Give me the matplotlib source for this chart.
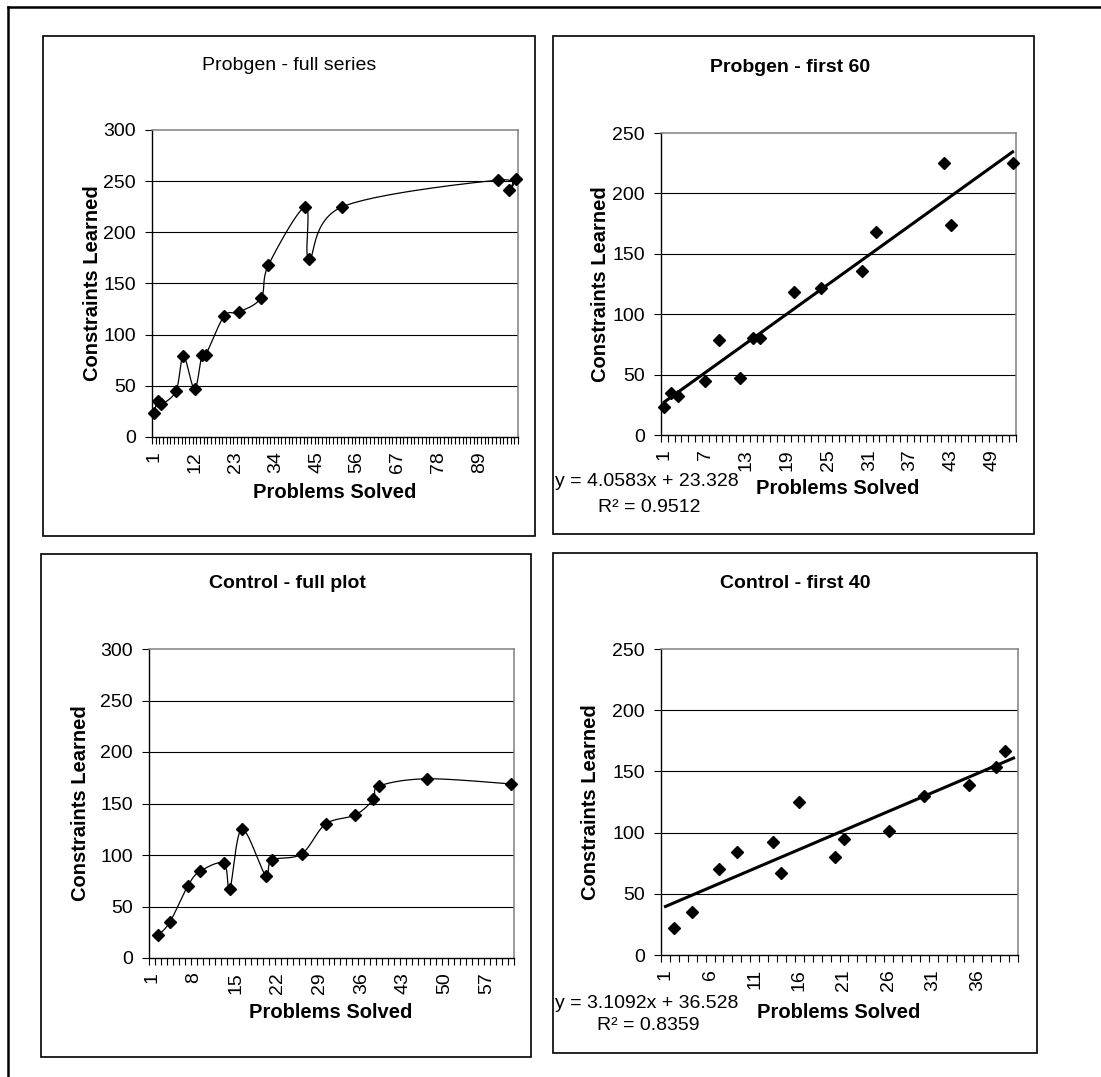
import matplotlib
matplotlib.use("Agg")
import matplotlib.pyplot as plt
import numpy as np
from matplotlib.patches import Rectangle
from matplotlib.lines import Line2D

plt.rcParams['font.family'] = ['Liberation Sans', 'DejaVu Sans']

W, H = 1101, 1077

# Probgen run: problem index -> constraints learned
probgen_x = [1, 2, 3, 7, 9, 12, 14, 15, 20, 24, 30, 32, 42, 43, 52, 94, 97, 99]
probgen_y = [23, 35, 32, 45, 79, 47, 80, 80, 118, 122, 136, 168, 225, 174, 225, 251, 241, 252]
probgen_full_n = 99
probgen_first_n = 52
probgen_fit = (4.0583, 23.328, 0.9512)

# Control run
control_x = [2, 4, 7, 9, 13, 14, 16, 20, 21, 26, 30, 35, 38, 39, 47, 61]
control_y = [22, 35, 70, 84, 92, 67, 125, 80, 95, 101, 130, 139, 154, 167, 174, 169]
control_full_n = 61
control_first_n = 40
control_fit = (3.1092, 36.528, 0.8359)

FS = 14


def smooth(xs, ys, steps=30):
    # catmull-rom style bezier, like excel's "smoothed line"
    x = np.asarray(xs, float)
    y = np.asarray(ys, float)
    px = np.concatenate([[x[0]], x, [x[-1]]])
    py = np.concatenate([[y[0]], y, [y[-1]]])
    t = np.linspace(0, 1, steps)
    ox, oy = [], []
    for i in range(1, len(px) - 2):
        x0, x1, x2, x3 = px[i-1:i+3]
        y0, y1, y2, y3 = py[i-1:i+3]
        cx1, cy1 = x1 + (x2 - x0) / 6, y1 + (y2 - y0) / 6
        cx2, cy2 = x2 - (x3 - x1) / 6, y2 - (y3 - y1) / 6
        a, b, c, d = (1-t)**3, 3*(1-t)**2*t, 3*(1-t)*t**2, t**3
        ox.extend(a*x1 + b*cx1 + c*cx2 + d*x2)
        oy.extend(a*y1 + b*cy1 + c*cy2 + d*y2)
    return ox, oy


def fx(x):
    return x / W


def fy(y):
    return 1 - y / H


def frame(l, t, r, b):
    fig.add_artist(Rectangle((fx(l), fy(b)), (r - l) / W, (b - t) / H,
                             transform=fig.transFigure, fill=False,
                             ec='black', lw=1.2))


def make_axes(box, n, ymax, step):
    l, t, r, b = box
    ax = fig.add_axes([fx(l), fy(b), (r - l) / W, (b - t) / H])
    ax.set_xlim(0.5, n + 0.5)
    ax.set_ylim(0, ymax)
    ax.set_yticks(np.arange(0, ymax + 1, 50))
    ax.set_xticks(np.arange(1, n + 1, step))
    ax.set_xticks(np.arange(0.5, n + 1, 1), minor=True)
    ax.tick_params(axis='x', which='major', length=0, pad=10,
                   labelrotation=90, labelsize=FS)
    ax.tick_params(axis='x', which='minor', length=5, width=0.8)
    ax.tick_params(axis='y', length=5, width=0.8, pad=6.5, labelsize=FS)
    for v in range(50, ymax, 50):
        ax.axhline(v, color='black', lw=0.8, zorder=1)
    for s in ['top', 'right']:
        ax.spines[s].set_color('#808080')
        ax.spines[s].set_linewidth(1.1)
    for s in ['left', 'bottom']:
        ax.spines[s].set_linewidth(1.0)
    return ax


def axis_label(x, y, s, rot=0):
    fig.text(fx(x), fy(y), s, ha='center', va='center', rotation=rot,
             fontsize=FS + 0.5, weight='bold')


fig = plt.figure(figsize=(W / 100, H / 100), dpi=100)

# outer border (cut off on the right and bottom)
fig.add_artist(Line2D([fx(8), fx(8)], [0, fy(7)], color='black', lw=1.8))
fig.add_artist(Line2D([fx(8), 1], [fy(7), fy(7)], color='black', lw=1.8))

frame(43, 36, 535, 536)
frame(553, 36, 1034, 534)
frame(41, 554, 531, 1057)
frame(553, 553, 1037, 1053)

MS = 6.5

# Probgen - full series
ax = make_axes((152, 130, 518, 437), probgen_full_n, 300, 11)
sx, sy = smooth(probgen_x, probgen_y)
ax.plot(sx, sy, color='black', lw=0.9, zorder=3)
ax.plot(probgen_x, probgen_y, 'D', color='black', ms=MS, zorder=4, clip_on=False)
fig.text(fx(289), fy(65), 'Probgen - full series', ha='center', va='center', fontsize=FS)
axis_label(335, 493, 'Problems Solved')
axis_label(93, 283, 'Constraints Learned', 90)

# Probgen - first 60
ax = make_axes((661, 133, 1016, 435), probgen_first_n, 250, 6)
m, c, r2 = probgen_fit
ax.plot([1, probgen_first_n], [m * 1 + c, m * probgen_first_n + c], color='black', lw=2.2, zorder=3)
px = [x for x in probgen_x if x <= probgen_first_n]
py = probgen_y[:len(px)]
ax.plot(px, py, 'D', color='black', ms=MS, zorder=4, clip_on=False)
fig.text(fx(790), fy(67), 'Probgen - first 60', ha='center', va='center', fontsize=FS, weight='bold')
axis_label(838, 489, 'Problems Solved')
axis_label(601, 284, 'Constraints Learned', 90)
fig.text(fx(555), fy(482), f'y = {m}x + {c}', ha='left', va='center', fontsize=FS)
fig.text(fx(598), fy(507), f'R² = {r2}', ha='left', va='center', fontsize=FS)

# Control - full plot
ax = make_axes((149, 649, 514, 958), control_full_n, 300, 7)
sx, sy = smooth(control_x, control_y)
ax.plot(sx, sy, color='black', lw=0.9, zorder=3)
ax.plot(control_x, control_y, 'D', color='black', ms=MS, zorder=4, clip_on=False)
fig.text(fx(287), fy(583), 'Control - full plot', ha='center', va='center', fontsize=FS, weight='bold')
axis_label(331, 1012, 'Problems Solved')
axis_label(80, 803, 'Constraints Learned', 90)

# Control - first 40
ax = make_axes((661, 649, 1018, 955), control_first_n, 250, 5)
m, c, r2 = control_fit
ax.plot([1, control_first_n], [m * 1 + c, m * control_first_n + c], color='black', lw=2.2, zorder=3)
cx = [x for x in control_x if x <= control_first_n]
cy = control_y[:len(cx)]
ax.plot(cx, cy, 'D', color='black', ms=MS, zorder=4, clip_on=False)
fig.text(fx(795), fy(583), 'Control - first 40', ha='center', va='center', fontsize=FS, weight='bold')
axis_label(839, 1013, 'Problems Solved')
axis_label(590, 802, 'Constraints Learned', 90)
fig.text(fx(555), fy(1004), f'y = {m}x + {c}', ha='left', va='center', fontsize=FS)
fig.text(fx(597), fy(1026), f'R² = {r2}', ha='left', va='center', fontsize=FS)

fig.savefig('out.png', dpi=100)
